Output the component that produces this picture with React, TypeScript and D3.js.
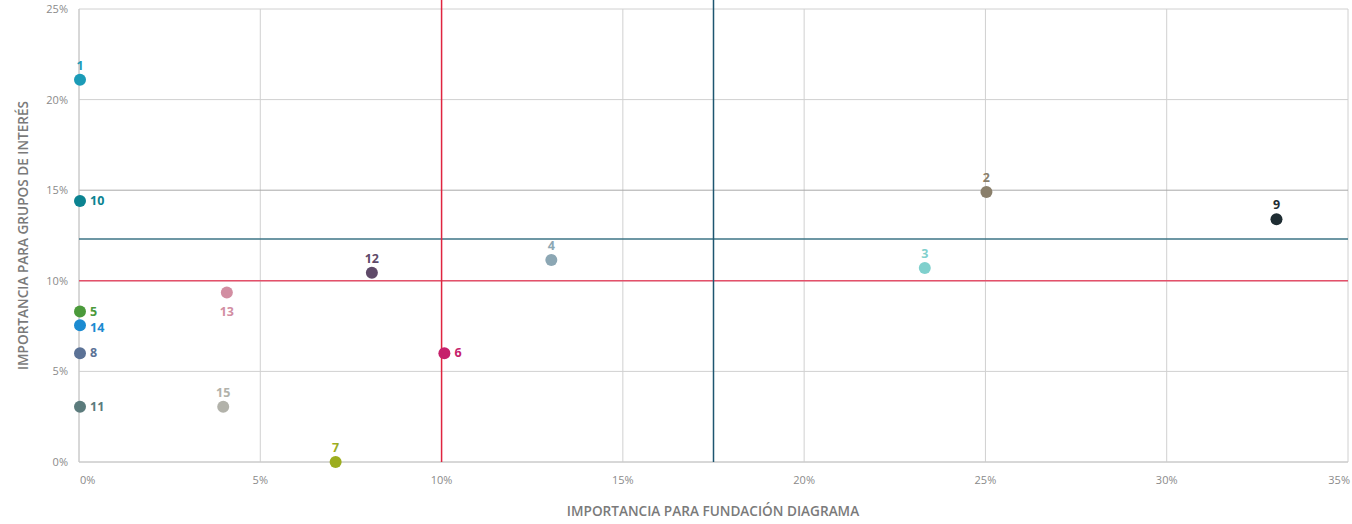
import React from "react";
import * as d3 from "d3";

const ids = ["1", "2", "3", "4", "5", "6", "7", "8", "9", "10", "11", "12", "13", "14", "15"];
const xValues = [0, 25.0, 23.3, 13.0, 0, 10.05, 7.05, 0, 33.0, 0, 0, 8.05, 4.05, 0, 3.95];
const yValues = [21.1, 14.9, 10.7, 11.15, 8.3, 6.0, 0, 6.0, 13.4, 14.4, 3.05, 10.45, 9.35, 7.55, 3.05];
const colors = ["#1b9bb7", "#8a7f6b", "#7fd0cd", "#8ca7b4", "#4b9a3b", "#c6216b", "#9cad1f", "#5b7296", "#1f2d33", "#0b8391", "#5b7b7c", "#5f4a69", "#d28ea2", "#1b8bd1", "#b2b2aa"];
const labelSide = ["top", "top", "top", "top", "right", "right", "top", "right", "top", "right", "right", "top", "bottom", "rightlow", "top"];
const xTicks = [0, 5, 10, 15, 20, 25, 30, 35];
const yTicks = [0, 5, 10, 15, 20, 25];
const refX = [{ v: 10, c: "#e0243f" }, { v: 17.5, c: "#1d5670" }];
const refY = [{ v: 10, c: "#e4506a" }, { v: 12.3, c: "#3d7486" }];
const xTitle = "IMPORTANCIA PARA FUNDACIÓN DIAGRAMA";
const yTitle = "IMPORTANCIA PARA GRUPOS DE INTERÉS";

export default function App() {
  const W = 1352, H = 524;
  const left = 79, right = 1348, top = 9, bottom = 462;
  const x = d3.scaleLinear().domain([0, 35]).range([left, right]);
  const y = d3.scaleLinear().domain([0, 25]).range([bottom, top]);
  const font = "'Open Sans', Lato, sans-serif";
  return (
    <svg width={W} height={H} style={{ position: "absolute", left: 0, top: 0, background: "#fff" }}>
      {xTicks.map((t) => (
        <line key={"gx" + t} x1={x(t)} x2={x(t)} y1={top} y2={bottom} stroke="#d0d0d0" strokeWidth={1} />
      ))}
      {yTicks.map((t) => (
        <line key={"gy" + t} x1={left} x2={right} y1={y(t)} y2={y(t)} stroke={t === 15 ? "#a8a8a8" : "#d0d0d0"} strokeWidth={1} />
      ))}
      <line x1={left} x2={left} y1={top} y2={bottom} stroke="#c8c8c8" />
      <line x1={left} x2={right} y1={bottom} y2={bottom} stroke="#c8c8c8" />
      {refY.map((r, i) => (
        <line key={"ry" + i} x1={left} x2={right} y1={y(r.v)} y2={y(r.v)} stroke={r.c} strokeWidth={1.5} />
      ))}
      {refX.map((r, i) => (
        <line key={"rx" + i} x1={x(r.v)} x2={x(r.v)} y1={top - 9} y2={bottom} stroke={r.c} strokeWidth={1.5} />
      ))}
      {yTicks.map((t) => (
        <text key={"ty" + t} x={left - 11} y={y(t) + 4} textAnchor="end" fontFamily={font} fontSize={11} fill="#8a8a8a">{t}%</text>
      ))}
      {xTicks.map((t, i) => (
        <text key={"tx" + t} x={i === 0 ? x(t) + 1 : i === xTicks.length - 1 ? x(t) + 2 : x(t)} y={bottom + 22}
          textAnchor={i === 0 ? "start" : i === xTicks.length - 1 ? "end" : "middle"} fontFamily={font} fontSize={11} fill="#8a8a8a">{t}%</text>
      ))}
      <text x={713} y={516} textAnchor="middle" fontFamily={font} fontSize={13.6} fontWeight={600} fill="#7a7a7a">{xTitle}</text>
      <text transform={`translate(28, ${y(12.5)}) rotate(-90)`} textAnchor="middle" fontFamily={font} fontSize={13.6} fontWeight={600} fill="#7a7a7a">{yTitle}</text>
      {ids.map((id, i) => {
        const cx = x(xValues[i]) + 1, cy = y(yValues[i]);
        const side = labelSide[i];
        const isRight = side === "right" || side === "rightlow";
        const lx = isRight ? cx + 10 : cx;
        const ly = side === "top" ? cy - 10 : side === "bottom" ? cy + 23 : side === "rightlow" ? cy + 7 : cy + 4;
        return (
          <g key={id}>
            <circle cx={cx} cy={cy} r={6} fill={colors[i]} />
            <text x={lx} y={ly} textAnchor={isRight ? "start" : "middle"} fontFamily={font} fontSize={12.5} fontWeight={700} fill={colors[i]}>{id}</text>
          </g>
        );
      })}
    </svg>
  );
}
